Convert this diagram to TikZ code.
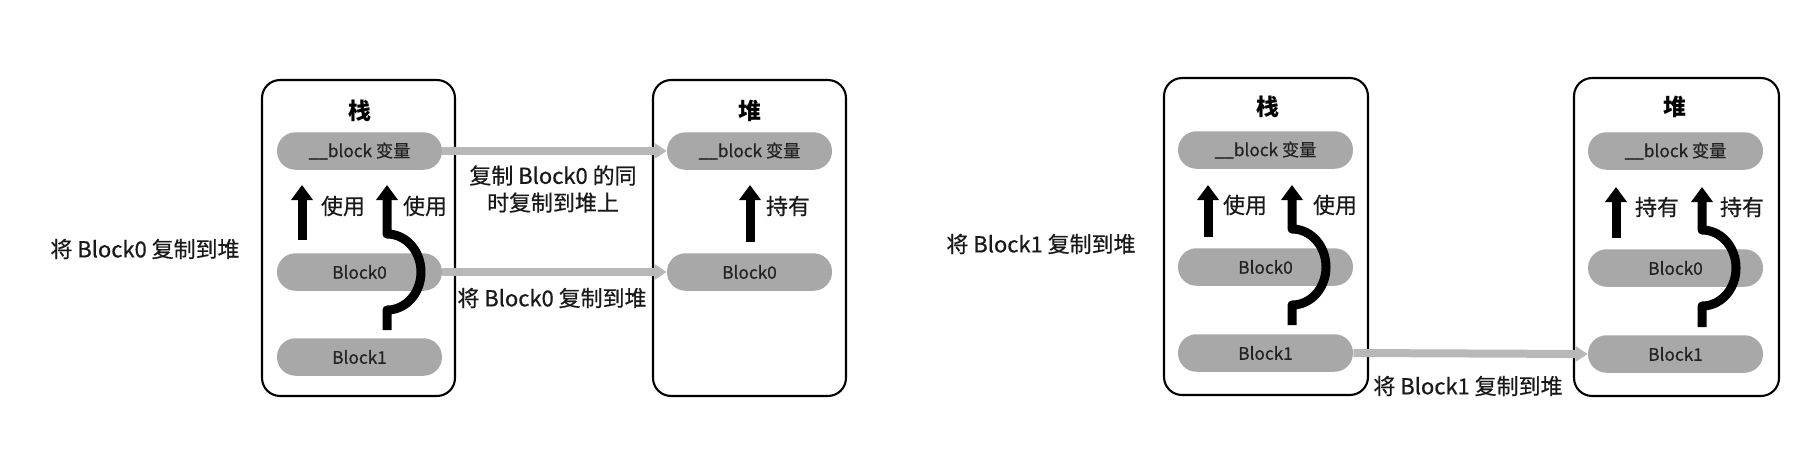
\documentclass[tikz,border=0pt]{standalone}
\usepackage{fontspec}
\setmainfont{Noto Sans CJK SC}
\newfontfamily\lblfont{Noto Sans CJK SC}[FakeBold=0.6]
\usetikzlibrary{arrows.meta}
\definecolor{pillgray}{RGB}{168,168,168}
\definecolor{arrgray}{RGB}{184,184,184}
\definecolor{pilltext}{RGB}{35,35,35}
\newcommand\bendarrow[4]{%
  \draw[blkarrow] (#1,#2) -- (#1,{#3+38})
    .. controls ({#1+19},{#3+38}) and ({#1+34},{#3+21}) .. ({#1+34},#3)
    .. controls ({#1+34},{#3-21}) and ({#1+19},{#3-38}) .. (#1,{#3-38})
    -- (#1,#4);}
\tikzset{
  panelbox/.style={draw=black, line width=1.2pt, rounded corners=0.36cm, inner sep=0pt},
  pill/.style={fill=pillgray, rounded corners=0.37cm, minimum height=0.75cm, inner sep=0pt,
    text=pilltext, font=\lblfont\fontsize{9.8}{11}\selectfont},
  lbl/.style={font=\lblfont\fontsize{12.5}{15}\selectfont, text=black!90, inner sep=0pt},
  hdr/.style={font=\bfseries\fontsize{13}{16}\selectfont, inner sep=0pt},
  blkarrow/.style={line width=0.18cm, line join=round, -{Triangle[width=0.42cm,length=0.3cm]}},
  grayarrow/.style={arrgray, line width=0.16cm, -{Triangle[width=0.3cm,length=0.24cm]}},
}
\begin{document}
\begin{tikzpicture}[x=0.02cm,y=-0.02cm]
\useasboundingbox (0,0) rectangle (1802,464);
% ---------- panel 1 ----------
\node[panelbox, minimum width=3.86cm, minimum height=6.32cm] (sA) at (358.5,238) {};
\node[panelbox, minimum width=3.86cm, minimum height=6.32cm] (hA) at (749.5,238) {};
\node[hdr] (sAt) at (360,111) {栈};
\node[hdr] (hAt) at (750,111) {堆};
\node[pill, minimum width=3.3cm] (sAv) at (359.5,151) {\_\_block 变量};
\node[pill, minimum width=3.3cm] (sA0) at (359.5,272) {Block0};
\node[pill, minimum width=3.3cm] (sA1) at (359.5,357) {Block1};
\node[pill, minimum width=3.3cm] (hAv) at (749.5,151) {\_\_block 变量};
\node[pill, minimum width=3.3cm] (hA0) at (749.5,272) {Block0};
\draw[grayarrow] (sAv.east) -- (hAv.west);
\draw[grayarrow] (sA0.east) -- (hA0.west);
\draw[blkarrow] (302,240) -- (302,185);
\node[lbl] (uA1) at (343,206) {使用};
\bendarrow{387}{330}{272}{185}
\node[lbl] (uA2) at (425,206) {使用};
\draw[blkarrow] (750,242) -- (750,185);
\node[lbl] (kA) at (788,206) {持有};
\node[lbl, align=center, font=\lblfont\fontsize{12.5}{15.4}\selectfont] (mA) at (553,189) {复制 Block0 的同\\时复制到堆上};
\node[lbl] (cA) at (552,298) {将 Block0 复制到堆};
\node[lbl] (LA) at (145,249) {将 Block0 复制到堆};
% ---------- panel 2 ----------
\node[panelbox, minimum width=4.08cm, minimum height=6.34cm] (sB) at (1266,236.5) {};
\node[panelbox, minimum width=4.1cm, minimum height=6.36cm] (hB) at (1676.5,237) {};
\node[hdr] (sBt) at (1268,107) {栈};
\node[hdr] (hBt) at (1675,107) {堆};
\node[pill, minimum width=3.5cm] (sBv) at (1265.5,150) {\_\_block 变量};
\node[pill, minimum width=3.5cm] (sB0) at (1265.5,267) {Block0};
\node[pill, minimum width=3.5cm] (sB1) at (1265.5,353) {Block1};
\node[pill, minimum width=3.5cm] (hBv) at (1675.5,151) {\_\_block 变量};
\node[pill, minimum width=3.5cm] (hB0) at (1675.5,268) {Block0};
\node[pill, minimum width=3.5cm] (hB1) at (1675.5,354) {Block1};
\draw[grayarrow] (sB1.east) -- (hB1.west);
\draw[blkarrow] (1208,237) -- (1208,185);
\node[lbl] (uB1) at (1245,205) {使用};
\bendarrow{1292}{325}{267}{185}
\node[lbl] (uB2) at (1335,205) {使用};
\draw[blkarrow] (1616,238) -- (1616,187);
\node[lbl] (kB1) at (1657,207) {持有};
\bendarrow{1702}{327}{268}{187}
\node[lbl] (kB2) at (1742,207) {持有};
\node[lbl] (cB) at (1468,386) {将 Block1 复制到堆};
\node[lbl] (LB) at (1041,244) {将 Block1 复制到堆};
\end{tikzpicture}
\end{document}
